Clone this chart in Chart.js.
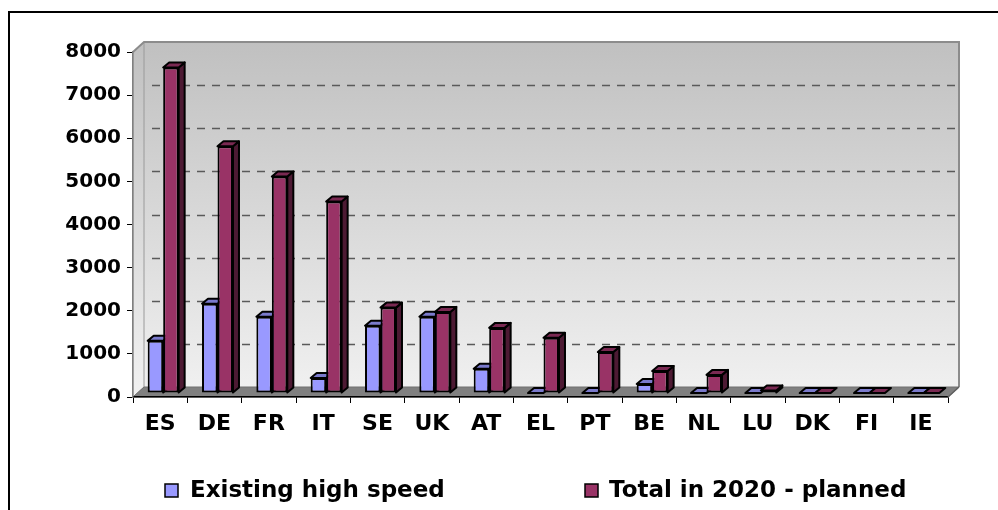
<!DOCTYPE html>
<html>
<head>
<meta charset="utf-8">
<script src="https://cdn.jsdelivr.net/npm/chart.js@4.4.1/dist/chart.umd.min.js"></script>
<style>
  html, body { margin: 0; padding: 0; background: #ffffff; }
  canvas { display: block; }
</style>
</head>
<body>
<canvas id="chart" width="998" height="510"></canvas>
<script>
// High speed rail network by country, km
const categories = ['ES', 'DE', 'FR', 'IT', 'SE', 'UK', 'AT', 'EL', 'PT', 'BE', 'NL', 'LU', 'DK', 'FI', 'IE'];
const existingKm = [1210, 2070, 1770, 350, 1560, 1770, 560, 0, 0, 210, 0, 0, 0, 0, 0];
const plannedKm  = [7550, 5720, 5020, 4440, 1980, 1880, 1510, 1280, 950, 510, 420, 60, 0, 0, 0];
const yTickValues = [0, 1000, 2000, 3000, 4000, 5000, 6000, 7000, 8000];
const seriesNames = ['Existing high speed', 'Total in 2020 - planned'];
const seriesColors = ['#9999ff', '#993366'];

// pseudo-3D geometry
const WALL_DX = 11, WALL_DY = -10;     // depth of the walls / floor
const BAR_SHIFT_X = 3, BAR_SHIFT_Y = -4; // columns stand midway in the depth
const BAR_DX = 6, BAR_DY = -5;         // depth of each column
const FONT = 'DejaVu Sans';

function shade(hex, f) {
  const n = parseInt(hex.slice(1), 16);
  const r = Math.round(((n >> 16) & 255) * f);
  const g = Math.round(((n >> 8) & 255) * f);
  const b = Math.round((n & 255) * f);
  return `rgb(${r},${g},${b})`;
}

function poly(ctx, pts, fill, stroke, lw) {
  ctx.beginPath();
  ctx.moveTo(pts[0][0], pts[0][1]);
  for (let i = 1; i < pts.length; i++) ctx.lineTo(pts[i][0], pts[i][1]);
  ctx.closePath();
  if (fill) { ctx.fillStyle = fill; ctx.fill(); }
  if (stroke) { ctx.strokeStyle = stroke; ctx.lineWidth = lw || 1; ctx.stroke(); }
}

const threeD = {
  id: 'threeD',
  beforeDraw(chart) {
    const { ctx, chartArea: a, scales: { y } } = chart;
    const L = a.left, R = a.right, T = a.top, B = a.bottom;
    ctx.save();
    // back wall
    const grad = ctx.createLinearGradient(0, T + WALL_DY, 0, B + WALL_DY);
    grad.addColorStop(0, '#c0c0c0');
    grad.addColorStop(1, '#f0f0f0');
    poly(ctx, [[L + WALL_DX, T + WALL_DY], [R + WALL_DX, T + WALL_DY], [R + WALL_DX, B + WALL_DY], [L + WALL_DX, B + WALL_DY]], grad);
    // left side wall
    poly(ctx, [[L, T], [L + WALL_DX, T + WALL_DY], [L + WALL_DX, B + WALL_DY], [L, B]], grad, '#9a9a9a', 1);
    // wall edges
    ctx.strokeStyle = '#8c8c8c';
    ctx.lineWidth = 2;
    ctx.beginPath();
    ctx.moveTo(L, T);
    ctx.lineTo(L + WALL_DX, T + WALL_DY);
    ctx.lineTo(R + WALL_DX, T + WALL_DY);
    ctx.lineTo(R + WALL_DX, B + WALL_DY);
    ctx.stroke();
    // dashed gridlines on the back wall
    ctx.setLineDash([8, 7]);
    ctx.strokeStyle = '#5a5a5a';
    ctx.lineWidth = 1.3;
    y.ticks.forEach(t => {
      if (t.value <= y.min || t.value >= y.max) return;
      const py = Math.round(y.getPixelForValue(t.value) + WALL_DY) + 0.5;
      ctx.beginPath();
      ctx.moveTo(L + WALL_DX + 8, py);
      ctx.lineTo(R + WALL_DX, py);
      ctx.stroke();
    });
    ctx.setLineDash([]);
    // floor
    poly(ctx, [[L, B], [R, B], [R + WALL_DX, B + WALL_DY], [L + WALL_DX, B + WALL_DY]], '#808080', '#707070', 1);
    ctx.restore();
  },
  beforeDatasetsDraw(chart) {
    const ctx = chart.ctx;
    ctx.save();
    ctx.translate(BAR_SHIFT_X, BAR_SHIFT_Y);
    ctx.lineJoin = 'round';
    chart.data.datasets.forEach((ds, i) => {
      const meta = chart.getDatasetMeta(i);
      meta.data.forEach(bar => {
        const p = bar.getProps(['x', 'y', 'base', 'width'], true);
        const l = p.x - p.width / 2, r = p.x + p.width / 2;
        const top = Math.min(p.y, p.base), bot = Math.max(p.y, p.base);
        // side face
        if (bot - top > 0.5) {
          poly(ctx, [[r, top], [r + BAR_DX, top + BAR_DY], [r + BAR_DX, bot + BAR_DY], [r, bot]],
               shade(ds.backgroundColor, 0.5), '#000', 2);
        }
        // top face
        poly(ctx, [[l, top], [r, top], [r + BAR_DX, top + BAR_DY], [l + BAR_DX, top + BAR_DY]],
             shade(ds.backgroundColor, 0.8), '#000', 2);
      });
    });
  },
  afterDatasetsDraw(chart) {
    chart.ctx.restore();
  },
  afterDraw(chart) {
    const ctx = chart.ctx;
    ctx.save();
    // right end of the floor
    const a = chart.chartArea;
    ctx.strokeStyle = '#606060';
    ctx.lineWidth = 1.5;
    ctx.beginPath();
    ctx.moveTo(a.right, a.bottom);
    ctx.lineTo(a.right + WALL_DX, a.bottom + WALL_DY);
    ctx.stroke();
    // legend
    ctx.font = `bold 23px "${FONT}"`;
    ctx.textBaseline = 'alphabetic';
    ctx.fillStyle = '#000';
    const items = [{ bx: 165, tx: 190 }, { bx: 585, tx: 609 }];
    chart.data.datasets.forEach((ds, i) => {
      const it = items[i];
      ctx.fillStyle = ds.backgroundColor;
      ctx.fillRect(it.bx, 484, 13, 13);
      ctx.strokeStyle = '#000';
      ctx.lineWidth = 1.5;
      ctx.strokeRect(it.bx, 484, 13, 13);
      ctx.fillStyle = '#000';
      ctx.fillText(ds.label, it.tx, 497);
    });
    // frame
    ctx.strokeStyle = '#000';
    ctx.lineWidth = 2;
    ctx.beginPath();
    ctx.moveTo(9, 510);
    ctx.lineTo(9, 12);
    ctx.lineTo(998, 12);
    ctx.stroke();
    ctx.restore();
  }
};

new Chart(document.getElementById('chart'), {
  type: 'bar',
  data: {
    labels: categories,
    datasets: [
      { label: seriesNames[0], data: existingKm, backgroundColor: seriesColors[0] },
      { label: seriesNames[1], data: plannedKm, backgroundColor: seriesColors[1] }
    ]
  },
  options: {
    responsive: false,
    animation: false,
    devicePixelRatio: 1,
    layout: { padding: { top: 52, right: 50, bottom: 73, left: 0 } },
    datasets: {
      bar: {
        borderColor: '#000',
        borderWidth: 2,
        borderSkipped: false,
        categoryPercentage: 0.57,
        barPercentage: 1,
        clip: false
      }
    },
    plugins: {
      legend: { display: false },
      tooltip: { enabled: false }
    },
    scales: {
      x: {
        grid: { drawOnChartArea: false, tickLength: 6, color: '#000', lineWidth: 1 },
        border: { display: true, color: '#000', width: 1.5 },
        ticks: { color: '#000', font: { family: FONT, weight: 'bold', size: 22 }, padding: 8, maxRotation: 0 },
        afterFit: s => { s.height = 40; }
      },
      y: {
        min: 0,
        max: 8000,
        afterBuildTicks: s => { s.ticks = yTickValues.map(v => ({ value: v })); },
        grid: { drawOnChartArea: false, tickLength: 6, color: '#000', lineWidth: 1 },
        border: { display: true, color: '#808080', width: 1.5 },
        ticks: {
          color: '#000',
          font: { family: FONT, weight: 'bold', size: 20 },
          padding: 6,
          callback: v => String(v)
        },
        afterFit: s => { s.width = 133; }
      }
    }
  },
  plugins: [threeD]
});
</script>
</body>
</html>
